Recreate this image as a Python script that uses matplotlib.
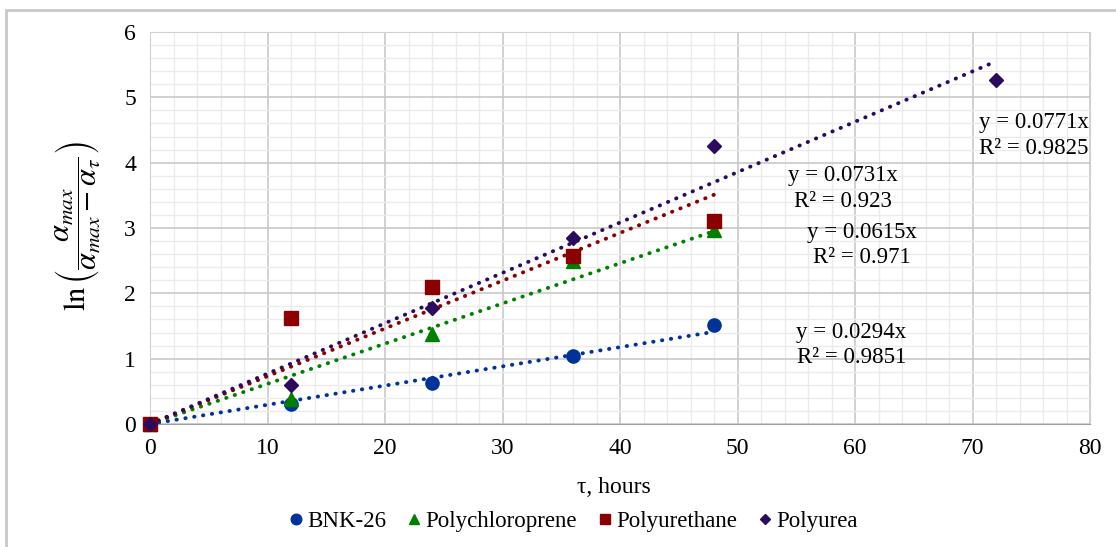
import numpy as np
import matplotlib
matplotlib.use("Agg")
import matplotlib.pyplot as plt
from matplotlib.patches import Rectangle
from matplotlib.ticker import MultipleLocator

plt.rcParams['font.family'] = ['Liberation Serif', 'DejaVu Serif']
plt.rcParams['mathtext.fontset'] = 'stix'

# data
names = ["BNK-26", "Polychloroprene", "Polyurethane", "Polyurea"]
t_bnk = [0, 12, 24, 36, 48]
y_bnk = [0, 0.30, 0.62, 1.04, 1.52]
t_pcp = [0, 12, 24, 36, 48]
y_pcp = [0, 0.38, 1.37, 2.50, 2.97]
t_pu = [0, 12, 24, 36, 48]
y_pu = [0, 1.62, 2.10, 2.57, 3.10]
t_pur = [0, 12, 24, 36, 48, 72]
y_pur = [0, 0.60, 1.78, 2.85, 4.26, 5.27]

slopes = [0.0294, 0.0615, 0.0731, 0.0771]
r2 = ["0.9851", "0.971", "0.923", "0.9825"]
label_pos = [(59.7, 1.21), (60.6, 2.74), (59.0, 3.61), (75.2, 4.42)]

colors = ["#003399", "#008000", "#8B0000", "#2B0B5E"]
markers = ["o", "^", "s", "D"]
msizes = [9.5, 9.5, 9.5, 7]

fig = plt.figure(figsize=(11.16, 5.47), dpi=100, facecolor='w')
ax = fig.add_axes([150/1116, 1 - 424/547, 940/1116, 392/547])

series = [(t_bnk, y_bnk), (t_pcp, y_pcp), (t_pu, y_pu), (t_pur, y_pur)]
for k, (t, y) in enumerate(series):
    # trendline through origin, y = slope * x
    xt = np.array([0, max(t)])
    ax.plot(xt, slopes[k] * xt, color=colors[k], lw=2.8,
            linestyle=(0, (0.1, 2.2)), dash_capstyle='round', zorder=2)
for k, (t, y) in enumerate(series):
    ax.plot(t, y, linestyle='none', marker=markers[k], ms=msizes[k],
            color=colors[k], label=names[k], zorder=3, clip_on=False)

for k in range(4):
    ax.text(label_pos[k][0], label_pos[k][1],
            "y = %sx\nR² = %s" % (slopes[k], r2[k]),
            ha='center', va='center', fontsize=16.5, linespacing=1.3)

ax.set_xlim(0, 80)
ax.set_ylim(0, 6)
ax.xaxis.set_major_locator(MultipleLocator(10))
ax.xaxis.set_minor_locator(MultipleLocator(2))
ax.yaxis.set_major_locator(MultipleLocator(1))
ax.yaxis.set_minor_locator(MultipleLocator(0.2))
ax.grid(True, which='major', color='#c8c8c8', lw=1.2)
ax.grid(True, which='minor', color='#ebebeb', lw=1.0)
ax.set_axisbelow(True)
ax.tick_params(which='both', length=0, labelsize=17, pad=10)
for s in ['top', 'right', 'left']:
    ax.spines[s].set_color('#d0d0d0')
ax.spines['bottom'].set_color('#a0a0a0')

ax.set_xlabel("τ, hours", fontsize=17)
ax.xaxis.set_label_coords((614 - 150) / 940, -0.135)
ax.set_ylabel(r"$\ln\left(\dfrac{\alpha_{max}}{\alpha_{max}-\alpha_{\tau}}\right)$",
              fontsize=22)
ax.yaxis.set_label_coords(-0.05, 0.505)

fig.legend(loc='center', bbox_to_anchor=(570/1116, 1 - 521/547), ncol=4,
           frameon=False, fontsize=16.5, handletextpad=-0.1, columnspacing=0.6,
           handlelength=1.2, markerscale=0.8)

fig.patches.append(Rectangle((6/1116, -0.1), 1.2, 1 - 10/547 + 0.1,
                             transform=fig.transFigure, fill=False,
                             edgecolor='#c8c8c8', lw=2))

fig.savefig("out.png", dpi=100)
